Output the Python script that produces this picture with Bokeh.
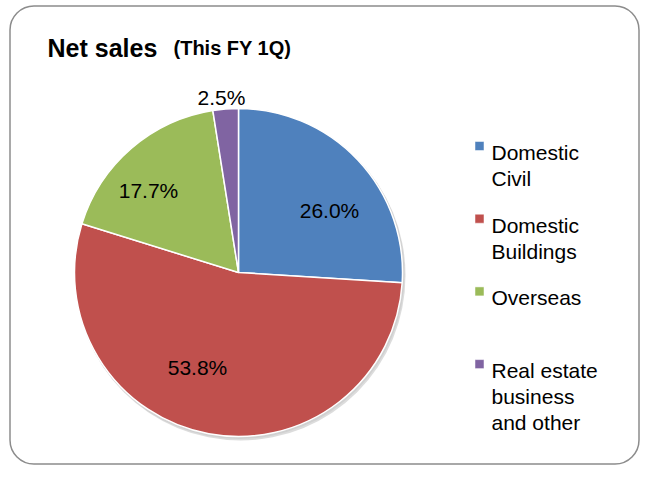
import math
from bokeh.plotting import figure
from bokeh.models import Range1d, BoxAnnotation, ColumnDataSource
from bokeh.embed import file_html
from bokeh.resources import INLINE
from bokeh.core.properties import value

# ---- data ----
categories = ["Domestic Civil", "Domestic Buildings", "Overseas", "Real estate business and other"]
legend_lines = [["Domestic", "Civil"], ["Domestic", "Buildings"], ["Overseas"],
                ["Real estate", "business", "and other"]]
shares = [26.0, 53.8, 17.7, 2.5]
pct_labels = ["26.0%", "53.8%", "17.7%", "2.5%"]
colors = ["#4F81BD", "#C0504D", "#9BBB59", "#8064A2"]
title_main = "Net sales"
title_sub = "(This FY 1Q)"

# ---- layout (screen pixel coords) ----
W, H = 640, 465
X0, Y0 = 0, 0
FONT = value("Liberation Sans")

p = figure(width=W, height=H, x_range=Range1d(X0, X0 + W), y_range=Range1d(-(Y0 + H), -Y0),
           output_backend="svg", toolbar_location=None, min_border=0,
           x_axis_location=None, y_axis_location=None)
p.grid.visible = False
p.outline_line_color = None
p.background_fill_color = "white"
p.border_fill_color = "white"

# frame
p.add_layout(BoxAnnotation(left=9.5, right=638.5, top=-5.5, bottom=-463.5,
                           fill_alpha=0, line_color="#8c8c8c", line_alpha=1.0, line_width=1.5,
                           border_radius=24))

# pie
cx, cy, R = 238, -272, 164
total = sum(shares)
starts, ends = [], []
cum = 0.0
for s in shares:
    a0 = math.pi / 2 - 2 * math.pi * cum / total
    cum += s
    a1 = math.pi / 2 - 2 * math.pi * cum / total
    starts.append(a0)
    ends.append(a1)

# soft shadow
p.circle(x=[cx + 2], y=[cy - 3], radius=R + 1, fill_color="#9a9a9a", fill_alpha=0.35, line_color=None)
p.circle(x=[cx + 1], y=[cy - 1.5], radius=R + 1, fill_color="#bbbbbb", fill_alpha=0.35, line_color=None)

src = ColumnDataSource(dict(start=starts, end=ends, color=colors, cat=categories))
p.wedge(x=cx, y=cy, radius=R, start_angle="start", end_angle="end", direction="clock",
        fill_color="color", line_color="white", line_width=1.5, source=src)

# percentage labels (offsets from centre in px)
label_offsets = [(91, 62), (-41, -95), (-90, 82), (-17, 175)]
p.text(x=[cx + dx for dx, dy in label_offsets], y=[cy + dy for dx, dy in label_offsets],
       text=pct_labels, text_font=FONT, text_font_size="21px", text_color="black",
       text_align="center", text_baseline="middle")

# title
p.text(x=[47], y=[-47], text=[title_main], text_font=FONT, text_font_style="bold",
       text_font_size="25px", text_baseline="alphabetic", text_color="black")
p.text(x=[173], y=[-47], text=[title_sub], text_font=FONT, text_font_style="bold",
       text_font_size="20px", text_baseline="alphabetic", text_color="black")

# legend
lx_box, lx_text = 479, 491
first_baseline, entry_step, line_step = 152, 72.7, 26
tx, ty, tt = [], [], []
bx, by = [], []
for i, lines in enumerate(legend_lines):
    b = first_baseline + i * entry_step
    bx.append(lx_box)
    by.append(-(b - 6.5))
    for j, ln in enumerate(lines):
        tx.append(lx_text)
        ty.append(-(b + j * line_step))
        tt.append(ln)
p.rect(x=bx, y=by, width=9, height=9, fill_color=colors, line_color="white", line_width=0.5)
p.text(x=tx, y=ty, text=tt, text_font=FONT, text_font_size="21px", text_color="black",
       text_baseline="alphabetic", text_align="left")

open("out.html", "w").write(file_html(p, INLINE))
